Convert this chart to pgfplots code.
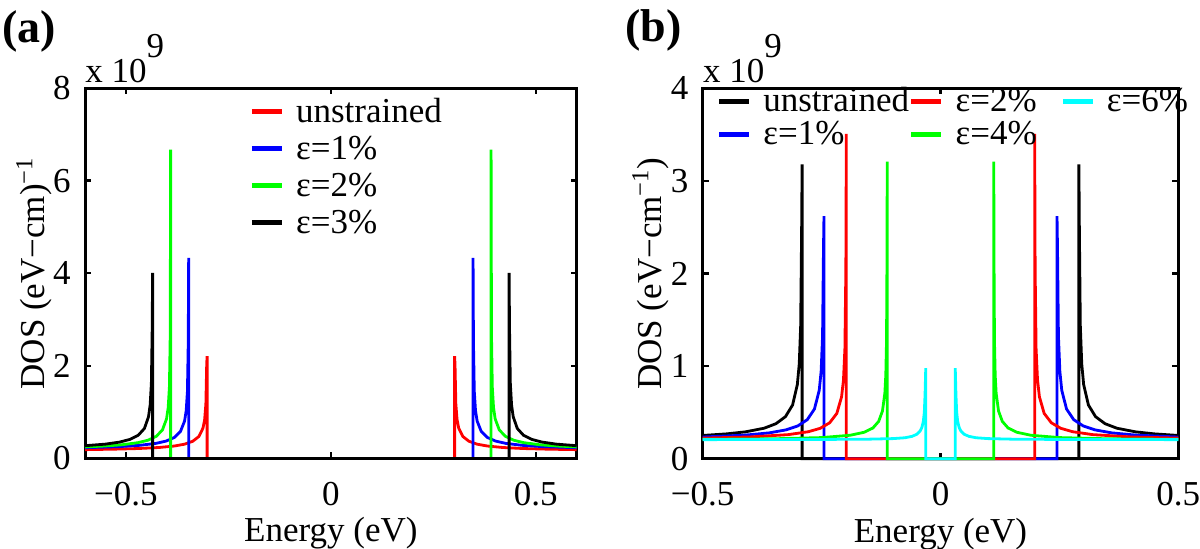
\documentclass[border=0pt]{standalone}
\usepackage{fontspec}
\setmainfont{Liberation Serif}
\usepackage{pgfplots}
\pgfplotsset{compat=1.18}
\definecolor{mred}{rgb}{1,0,0}
\definecolor{mblue}{rgb}{0,0,1}
\definecolor{mgreen}{rgb}{0,1,0}
\definecolor{mcyan}{rgb}{0,1,1}
\newcommand{\fs}{\fontsize{17.5}{21}\selectfont}
\pgfplotsset{
  dosaxis/.style={
    scale only axis, clip=false,
    axis line style={line width=1.5pt, black},
    every tick/.style={line width=1.2pt, black},
    major tick length=3pt,
    tick align=inside,
    xticklabel style={anchor=base, yshift=-23.5pt, inner sep=0pt},
    yticklabel style={anchor=east, inner sep=0pt, xshift=-7pt},
    tick label style={font=\fs},
    label style={font=\fs},
    xlabel style={at={(axis description cs:0.5,-0.225)}, anchor=base},
    every axis plot/.append style={line width=1.4pt},
    legend cell align=left,
    legend image code/.code={\draw[line width=2.2pt] (0pt,0pt) -- (15pt,0pt);},
  }
}
\begin{document}
\begin{tikzpicture}
\path[use as bounding box] (0,0) rectangle (600pt,274.5pt);
% ---------------- panel (a)
\begin{axis}[dosaxis,
  at={(42.5pt,45.25pt)}, anchor=south west,
  width=245.85pt, height=185.25pt,
  xmin=-0.6, xmax=0.6, ymin=0, ymax=8,
  xtick={-0.5,0,0.5}, xticklabels={−0.5,0,0.5},
  ytick={0,2,4,6,8}, yticklabels={0,2,4,6,8},
  xlabel={Energy (eV)},
  ylabel={DOS (eV−cm)\textsuperscript{−1}},
  ylabel style={at={(axis description cs:-0.103,0.5)}, anchor=center},
  legend style={draw=none, fill=none, inner sep=0pt, outer sep=0pt, font=\fs,
    at={(axis description cs:0.335,0.978)}, anchor=north west,
    nodes={inner sep=0pt, text height=13pt, text depth=2.5pt},
    row sep=3pt,
    /tikz/every odd column/.append style={column sep=6pt}},
]
\addplot[mred] coordinates {(-0.6,0.191) (-0.53,0.201) (-0.47,0.215) (-0.42,0.237) (-0.382,0.269) (-0.357,0.309) (-0.337,0.372) (-0.322,0.476) (-0.312,0.657) (-0.308,0.840) (-0.305,1.179) (-0.303,2.03) (-0.302,2.21) (-0.302,0) (0.302,0) (0.302,2.21) (0.303,2.03) (0.305,1.179) (0.308,0.840) (0.312,0.657) (0.322,0.476) (0.337,0.372) (0.357,0.309) (0.382,0.269) (0.42,0.237) (0.47,0.215) (0.53,0.201) (0.6,0.191)};
\addlegendentry{unstrained}
\addplot[mblue] coordinates {(-0.6,0.233) (-0.517,0.256) (-0.467,0.284) (-0.427,0.326) (-0.402,0.376) (-0.382,0.454) (-0.367,0.584) (-0.357,0.808) (-0.353,1.035) (-0.350,1.454) (-0.348,2.51) (-0.347,4.33) (-0.347,0) (0.347,0) (0.347,4.33) (0.348,2.51) (0.350,1.454) (0.353,1.035) (0.357,0.808) (0.367,0.584) (0.382,0.454) (0.402,0.376) (0.427,0.326) (0.467,0.284) (0.517,0.256) (0.6,0.233)};
\addlegendentry{ε=1\%}
\addplot[mgreen] coordinates {(-0.6,0.250) (-0.555,0.268) (-0.511,0.295) (-0.471,0.341) (-0.446,0.395) (-0.426,0.479) (-0.411,0.617) (-0.401,0.856) (-0.397,1.097) (-0.394,1.542) (-0.392,2.66) (-0.391,6.67) (-0.391,0) (0.391,0) (0.391,6.67) (0.392,2.66) (0.394,1.542) (0.397,1.097) (0.401,0.856) (0.411,0.617) (0.426,0.479) (0.446,0.395) (0.471,0.341) (0.511,0.295) (0.555,0.268) (0.6,0.250)};
\addlegendentry{ε=2\%}
\addplot[black] coordinates {(-0.6,0.276) (-0.550,0.310) (-0.515,0.355) (-0.490,0.413) (-0.470,0.502) (-0.455,0.648) (-0.445,0.901) (-0.441,1.156) (-0.438,1.626) (-0.436,2.81) (-0.435,4.01) (-0.435,0) (0.435,0) (0.435,4.01) (0.436,2.81) (0.438,1.626) (0.441,1.156) (0.445,0.901) (0.455,0.648) (0.470,0.502) (0.490,0.413) (0.515,0.355) (0.550,0.310) (0.6,0.276)};
\addlegendentry{ε=3\%}
\node[anchor=base west, inner sep=0pt, font=\fs] at (axis description cs:0,1) [yshift=3pt] {x 10\raisebox{12.5pt}{9}};
\node[anchor=base west, inner sep=0pt, font=\fontsize{23}{27}\selectfont\bfseries] at (axis description cs:-0.169,1.124) {(a)};
\end{axis}
% ---------------- panel (b)
\begin{axis}[dosaxis,
  at={(351.35pt,45.1pt)}, anchor=south west,
  width=237.8pt, height=185.2pt,
  xmin=-0.5, xmax=0.5, ymin=0, ymax=4,
  xtick={-0.5,0,0.5}, xticklabels={−0.5,0,0.5},
  ytick={0,1,2,3,4}, yticklabels={0,1,2,3,4},
  xlabel={Energy (eV)},
  ylabel={DOS (eV−cm\textsuperscript{−1})},
  ylabel style={at={(axis description cs:-0.11,0.5)}, anchor=center},
  legend columns=3,
  legend style={draw=none, fill=none, inner sep=0pt, outer sep=0pt, font=\fs,
    at={(axis description cs:0.03,1.005)}, anchor=north west,
    nodes={inner sep=0pt, text height=12.5pt, text depth=2.5pt},
    row sep=1.5pt,
    /tikz/every odd column/.append style={column sep=6pt},
    /tikz/every even column/.append style={column sep=0pt}},
]
\addplot[black, forget plot] coordinates {(-0.5,0.252) (-0.45,0.269) (-0.41,0.291) (-0.371,0.330) (-0.346,0.379) (-0.326,0.455) (-0.311,0.581) (-0.301,0.802) (-0.297,1.025) (-0.294,1.439) (-0.292,2.48) (-0.291,3.18) (-0.291,0) (0.291,0) (0.291,3.18) (0.292,2.48) (0.294,1.439) (0.297,1.025) (0.301,0.802) (0.311,0.581) (0.326,0.455) (0.346,0.379) (0.371,0.330) (0.41,0.291) (0.45,0.269) (0.5,0.252)};
\addplot[mblue, forget plot] coordinates {(-0.5,0.235) (-0.41,0.256) (-0.36,0.280) (-0.325,0.312) (-0.30,0.355) (-0.28,0.423) (-0.265,0.538) (-0.255,0.739) (-0.251,0.943) (-0.248,1.322) (-0.246,2.28) (-0.245,2.62) (-0.245,0) (0.245,0) (0.245,2.62) (0.246,2.28) (0.248,1.322) (0.251,0.943) (0.255,0.739) (0.265,0.538) (0.28,0.423) (0.30,0.355) (0.325,0.312) (0.36,0.280) (0.41,0.256) (0.5,0.235)};
\addplot[mred, forget plot] coordinates {(-0.5,0.223) (-0.40,0.236) (-0.32,0.261) (-0.278,0.292) (-0.253,0.329) (-0.233,0.389) (-0.218,0.490) (-0.208,0.669) (-0.204,0.852) (-0.201,1.191) (-0.199,2.05) (-0.198,3.51) (-0.198,0) (0.198,0) (0.198,3.51) (0.199,2.05) (0.201,1.191) (0.204,0.852) (0.208,0.669) (0.218,0.490) (0.233,0.389) (0.253,0.329) (0.278,0.292) (0.32,0.261) (0.40,0.236) (0.5,0.223)};
\addplot[mgreen, forget plot] coordinates {(-0.5,0.210) (-0.35,0.216) (-0.25,0.229) (-0.19,0.254) (-0.16,0.287) (-0.142,0.333) (-0.13,0.404) (-0.122,0.517) (-0.117,0.709) (-0.115,0.903) (-0.1135,1.265) (-0.1125,2.18) (-0.112,3.21) (-0.112,0) (0.112,0) (0.112,3.21) (0.1125,2.18) (0.1135,1.265) (0.115,0.903) (0.117,0.709) (0.122,0.517) (0.13,0.404) (0.142,0.333) (0.16,0.287) (0.19,0.254) (0.25,0.229) (0.35,0.216) (0.5,0.210)};
\addplot[mcyan, forget plot] coordinates {(-0.5,0.207) (-0.25,0.209) (-0.15,0.212) (-0.1,0.218) (-0.075,0.227) (-0.06,0.242) (-0.05,0.264) (-0.043,0.299) (-0.039,0.341) (-0.036,0.407) (-0.034,0.504) (-0.0325,0.689) (-0.031,0.98) (-0.031,0) (0.031,0) (0.031,0.98) (0.0325,0.689) (0.034,0.504) (0.036,0.407) (0.039,0.341) (0.043,0.299) (0.05,0.264) (0.06,0.242) (0.075,0.227) (0.1,0.218) (0.15,0.212) (0.25,0.209) (0.5,0.207)};
\addlegendimage{black}
\addlegendentry{unstrained}
\addlegendimage{mred}
\addlegendentry{\makebox[52.5pt][l]{ε=2\%}}
\addlegendimage{mcyan}
\addlegendentry{ε=6\%}
\addlegendimage{mblue}
\addlegendentry{ε=1\%}
\addlegendimage{mgreen}
\addlegendentry{\makebox[52.5pt][l]{ε=4\%}}
\node[anchor=base west, inner sep=0pt, font=\fs] at (axis description cs:0,1) [yshift=3pt] {x 10\raisebox{12.5pt}{9}};
\node[anchor=base west, inner sep=0pt, font=\fontsize{23}{27}\selectfont\bfseries] at (axis description cs:-0.163,1.1266) {(b)};
\end{axis}
\end{tikzpicture}
\end{document}
